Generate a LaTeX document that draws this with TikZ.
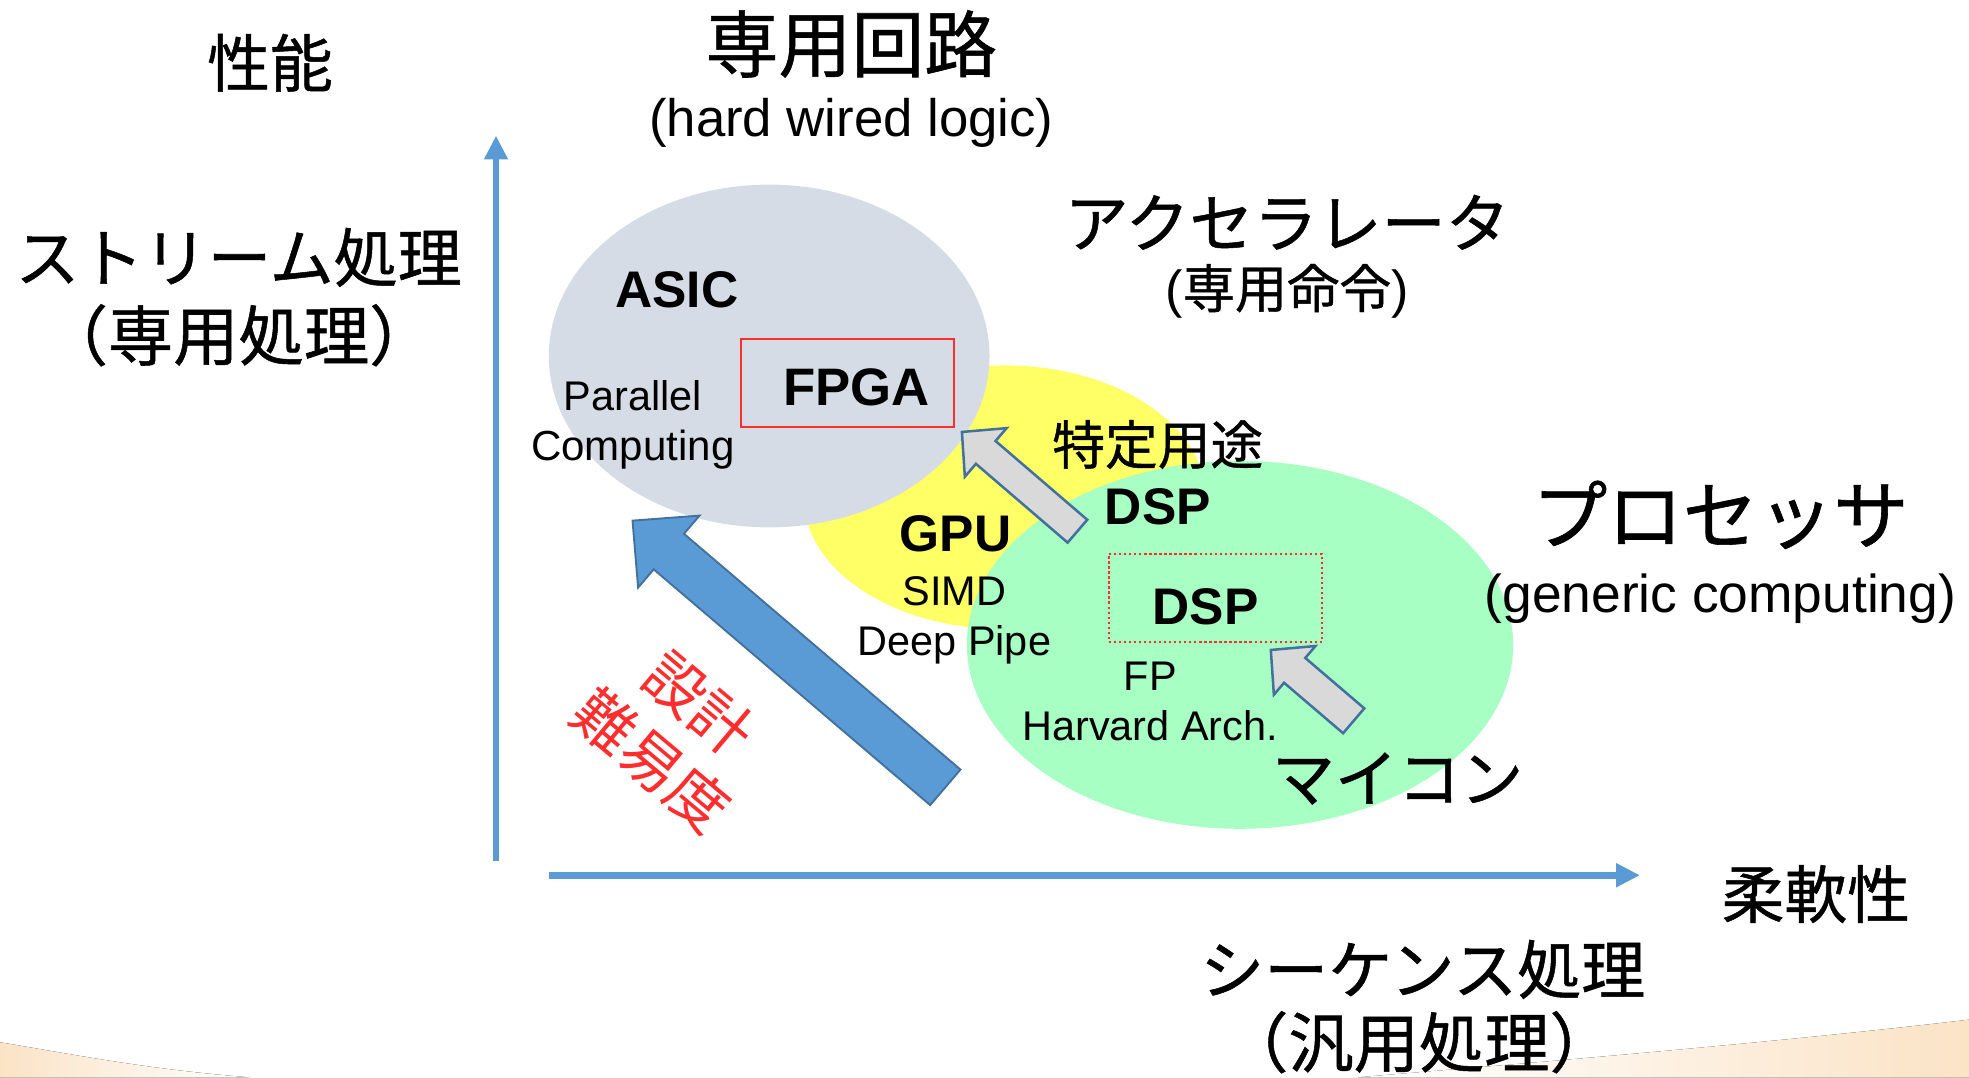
\documentclass[tikz,border=0pt]{standalone}
\usepackage{fontspec}
\setmainfont{Liberation Sans}
\newfontfamily\cjk[FakeBold=0.8]{Noto Sans CJK JP}
\newfontfamily\cjkred{Noto Sans CJK JP}
\usetikzlibrary{calc,arrows.meta,shapes.geometric}
\definecolor{axisblue}{HTML}{5B9BD5}
\definecolor{arrowedge}{HTML}{41719C}
\definecolor{asicgray}{HTML}{D6DCE5}
\definecolor{gpuyellow}{HTML}{FFFF66}
\definecolor{procgreen}{HTML}{A8FFC4}
\definecolor{boxred}{HTML}{FF2E2E}
\definecolor{lightgray}{HTML}{D9D9D9}
\definecolor{peach}{HTML}{FBE3C6}
\newcommand\blkarrow[6]{%
  \coordinate (hb) at ($(#3)!#6!(#2)$);
  \draw[#1] ($(#2)!#4!90:(#3)$) -- ($(hb)!#4!90:(#3)$) -- ($(hb)!#5!90:(#3)$)
    -- (#3) -- ($(hb)!#5!-90:(#3)$) -- ($(hb)!#4!-90:(#3)$) -- ($(#2)!#4!-90:(#3)$) -- cycle;
}
\tikzset{
  axisline/.style={draw=axisblue, line width=5.5pt, -{Triangle[length=19pt,width=18pt]}},
  blob/.style={ellipse, inner sep=0pt, draw=none},
  jp/.style={font=\cjk\fontsize{#1}{#1}\selectfont, inner sep=0pt},
  en/.style={font=\fontsize{#1}{#1}\selectfont, inner sep=0pt, anchor=base},
  enb/.style={font=\bfseries\fontsize{#1}{#1}\selectfont, inner sep=0pt, anchor=base},
  grayarrow/.style={fill=lightgray, draw=arrowedge, line width=2pt, line join=miter},
  bluearrow/.style={fill=axisblue, draw=arrowedge, line width=1.5pt, line join=miter},
}
\begin{document}
\begin{tikzpicture}[x=1pt,y=-1pt]
\useasboundingbox (0,0) rectangle (1568,858);
% faint background swoosh
\fill[left color=white, right color=peach, draw=none]
  (1080,858) .. controls (1300,840) and (1450,826) .. (1568,812) -- (1568,858) -- cycle;
\fill[left color=peach, right color=white, draw=none]
  (0,830) .. controls (60,840) and (120,852) .. (200,858) -- (0,858) -- cycle;

% axes
\coordinate (ybot) at (395,686);
\coordinate (ytop) at (395,108);
\coordinate (xleft) at (437,697);
\coordinate (xright) at (1306,697);
\draw[axisline] (ybot) -- (ytop);
\draw[axisline] (xleft) -- (xright);

% regions
\node[blob, fill=gpuyellow, minimum width=320pt, minimum height=210pt] (gpuarea) at (800,396) {};
\node[blob, fill=asicgray, minimum width=351pt, minimum height=273pt] (asicarea) at (612.5,283.5) {};
\node[blob, fill=procgreen, minimum width=435pt, minimum height=293pt] (procarea) at (987.5,513.5) {};

% boxes
\node[draw=boxred, line width=1.6pt, minimum width=170pt, minimum height=70pt, inner sep=0pt] (fpgabox) at (675,305) {};
\node[draw=boxred, line width=1.8pt, dash pattern=on 1.8pt off 2.2pt, minimum width=170pt, minimum height=70pt, inner sep=0pt] (dspbox) at (968,476) {};

% block arrows
\coordinate (a1tail) at (858,423);
\coordinate (a1tip) at (766,344);
\blkarrow{grayarrow}{a1tail}{a1tip}{12pt}{25.5pt}{25pt}
\coordinate (a2tail) at (1078,574);
\coordinate (a2tip) at (1012,517.6);
\blkarrow{grayarrow}{a2tail}{a2tip}{13pt}{25.5pt}{25pt}
\coordinate (a3tail) at (752.8,627);
\coordinate (a3tip) at (503.7,414.6);
\blkarrow{bluearrow}{a3tail}{a3tip}{18.6pt}{37.7pt}{38pt}

% Japanese labels
\node[jp=50] (perf) at (215,50) {性能};
\node[jp=58] (hardwired) at (678,35) {専用回路};
\node[jp=51] (accel) at (1025,177) {アクセラレータ};
\node[font=\fontsize{41.5}{41.5}\selectfont, inner sep=0pt] (accelsub) at (1025,232) {(\cjk 専用命令\normalfont)};
\node[jp=51] (stream) at (190,205) {ストリーム処理};
\node[jp=52] (streamsub) at (190,267) {（専用処理）};
\node[jp=60] (proc) at (1370,410) {プロセッサ};
\node[jp=42] (special) at (922,354) {特定用途};
\node[jp=50] (micon) at (1113,620) {マイコン};
\node[jp=50] (flex) at (1446,712) {柔軟性};
\node[jp=51] (seq) at (1133,772) {シーケンス処理};
\node[jp=52] (seqsub) at (1130,830) {（汎用処理）};
\node[font=\cjkred\fontsize{48}{59}\selectfont, text=boxred, inner sep=0pt, align=center, rotate=-40] (difficulty) at (538,583) {設計\\難易度};

% Latin labels
\node[en=42] (hwlogic) at (678,109) {(hard wired logic)};
\node[en=42.5] (generic) at (1370,488) {(generic computing)};
\node[enb=41] (asic) at (539,245) {ASIC};
\node[enb=42] (fpga) at (682,323) {FPGA};
\node[en=33] (parallel) at (504,327) {Parallel};
\node[en=33.5] (computing) at (504,367) {Computing};
\node[enb=41] (gpu) at (761,439) {GPU};
\node[en=33] (simd) at (760,482) {SIMD};
\node[en=33] (deeppipe) at (760,522) {Deep Pipe};
\node[enb=41] (dsp1) at (922,418) {DSP};
\node[enb=41] (dsp2) at (960,497) {DSP};
\node[en=33] (fp) at (916,550) {FP};
\node[en=33] (harvard) at (916,590) {Harvard Arch.};
\end{tikzpicture}
\end{document}
